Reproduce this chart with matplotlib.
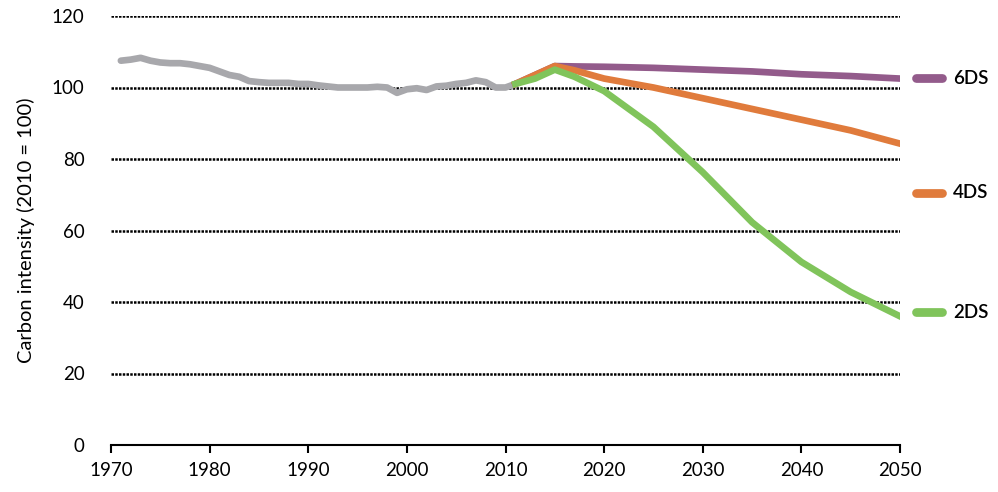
import matplotlib
matplotlib.use("Agg")
import matplotlib.pyplot as plt

plt.rcParams['font.family'] = ['Lato', 'DejaVu Sans']

hist_years = list(range(1971, 2012))
hist_vals = [107.5, 107.8, 108.3, 107.5, 107.0, 106.8, 106.8, 106.5, 106.0, 105.5,
             104.5, 103.5, 103.0, 101.8, 101.5, 101.3, 101.3, 101.3, 101.0, 101.0,
             100.6, 100.3, 100.0, 100.0, 100.0, 100.0, 100.2, 100.0, 98.5, 99.5,
             99.8, 99.3, 100.3, 100.5, 101.0, 101.3, 102.0, 101.5, 100.0, 100.0, 101.0]

scen_years = [2011, 2013, 2015, 2017, 2020, 2025, 2030, 2035, 2040, 2045, 2050]
s6 = [101.0, 103.5, 106.0, 105.9, 105.8, 105.5, 105.0, 104.5, 103.7, 103.2, 102.5]
s4 = [101.0, 103.5, 106.0, 104.8, 102.5, 100.0, 97.0, 94.0, 91.0, 88.0, 84.3]
s2 = [101.0, 102.5, 105.0, 103.0, 99.0, 89.0, 76.3, 62.3, 51.2, 42.8, 36.0]

labels = ['6DS', '4DS', '2DS']
label_y = [102.6, 70.5, 37.2]
colors = ['#935B8B', '#E07B3C', '#80C45B']
hist_color = '#A8A8AC'

fig = plt.figure(figsize=(9.98, 4.92), dpi=100)
ax = fig.add_axes([111/998, 47/492, 789/998, 429/492])

ax.set_xlim(1970, 2050)
ax.set_ylim(0, 120)

for yv in range(20, 121, 20):
    ax.axhline(yv, color='black', lw=1.8, ls=(0, (1, 0.5)), zorder=1)

lw = 4.8
ax.plot(hist_years, hist_vals, color=hist_color, lw=lw, solid_capstyle='round', zorder=3)
ax.plot(scen_years, s6, color=colors[0], lw=lw, zorder=3)
ax.plot(scen_years, s4, color=colors[1], lw=lw, zorder=4)
ax.plot(scen_years, s2, color=colors[2], lw=lw, zorder=5)

# right-side labels
for lab, yv, c in zip(labels, label_y, colors):
    ax.plot([2051.6, 2054.3], [yv, yv], color=c, lw=lw + 1.5, solid_capstyle='round', clip_on=False)
    ax.text(2055.4, yv, lab, fontsize=13.5, va='center', ha='left', color='black',
            fontweight='semibold', clip_on=False)

for s in ['top', 'right', 'left']:
    ax.spines[s].set_visible(False)
ax.spines['bottom'].set_linewidth(1.5)
ax.spines['bottom'].set_color('black')

ax.set_xticks(range(1970, 2051, 10))
ax.set_yticks(range(0, 121, 20))
ax.tick_params(axis='x', direction='out', length=6, width=1.5, labelsize=13.5, pad=6)
ax.tick_params(axis='y', length=0, labelsize=13.5, pad=19)

ax.set_ylabel('Carbon intensity (2010 = 100)', fontsize=14.5, labelpad=12)

fig.savefig('out.png', dpi=100)
